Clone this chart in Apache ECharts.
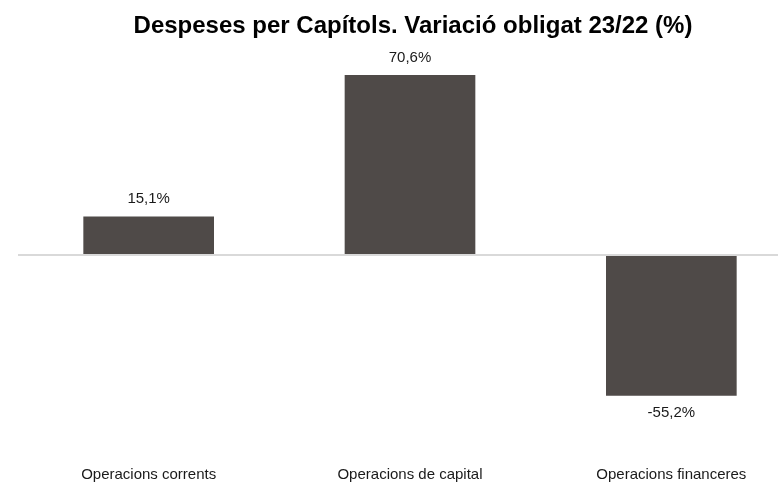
<!DOCTYPE html>
<html>
<head>
<meta charset="utf-8">
<script src="https://cdn.jsdelivr.net/npm/echarts@6/dist/echarts.min.js"></script>
<style>
  html, body { margin: 0; padding: 0; background: #fff; }
  #chart { width: 778px; height: 486px; }
</style>
</head>
<body>
<div id="chart"></div>
<script>
// data
var categories = ["Operacions corrents", "Operacions de capital", "Operacions financeres"];
var variation = [15.1, 70.6, -55.2];

var fmt = function (v) {
  return v.toFixed(1).replace(".", ",") + "%";
};

var chart = echarts.init(document.getElementById("chart"));
chart.setOption({
  animation: false,
  title: {
    text: "Despeses per Capítols. Variació obligat 23/22 (%)",
    left: 408,
    textAlign: "center",
    top: 9,
    textStyle: {
      fontFamily: "Liberation Sans",
      fontSize: 24,
      fontWeight: "bold",
      color: "#000"
    }
  },
  grid: {
    left: 18,
    width: 784,
    top: 51,
    bottom: 27,
    outerBoundsMode: "none"
  },
  xAxis: {
    type: "category",
    data: categories,
    axisLine: { show: false, onZero: false },
    axisTick: { show: false },
    axisLabel: {
      margin: 8,
      fontFamily: "Liberation Sans",
      fontSize: 15,
      color: "#1a1a1a"
    }
  },
  yAxis: {
    type: "value",
    min: -80,
    max: 80,
    show: false,
    splitLine: { show: false }
  },
  series: [
    {
      type: "bar",
      data: variation.map(function (v) {
        return {
          value: v,
          label: { position: v < 0 ? "bottom" : "top" }
        };
      }),
      barWidth: "50%",
      itemStyle: { color: "#4f4a48" },
      label: {
        show: true,
        distance: 10,
        fontFamily: "Liberation Sans",
        fontSize: 15,
        color: "#1a1a1a",
        formatter: function (p) { return fmt(p.value); }
      },
      markLine: {
        silent: true,
        symbol: "none",
        label: { show: false },
        lineStyle: { color: "#d9d9d9", width: 2, type: "solid" },
        data: [{ yAxis: 0 }]
      }
    }
  ]
});
</script>
</body>
</html>
